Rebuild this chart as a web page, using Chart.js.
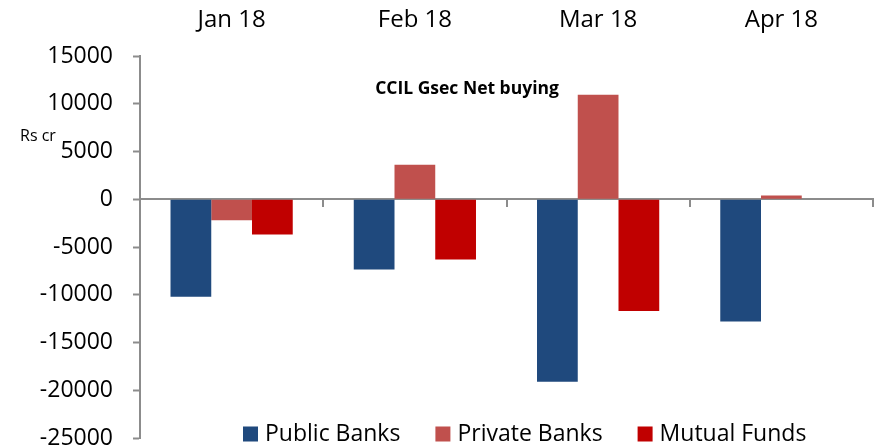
<!DOCTYPE html>
<html>
<head>
<meta charset="utf-8">
<script src="https://cdn.jsdelivr.net/npm/chart.js@4/dist/chart.umd.min.js"></script>
<style>
  html, body { margin: 0; padding: 0; background: #ffffff; }
  #wrap { position: relative; width: 878px; height: 448px; }
</style>
</head>
<body>
<div id="wrap"><canvas id="chart" width="878" height="448"></canvas></div>
<script>
// Monthly CCIL G-sec net buying by investor group (Rs crore)
const categories = ['Jan 18', 'Feb 18', 'Mar 18', 'Apr 18'];
const publicBanks = [-10200, -7350, -19100, -12800];
const privateBanks = [-2200, 3600, 10950, 400];
const mutualFunds = [-3700, -6300, -11700, 0];
const seriesNames = ['Public Banks', 'Private Banks', 'Mutual Funds'];
const yTicks = [15000, 10000, 5000, 0, -5000, -10000, -15000, -20000, -25000];

const FONT = "'Open Sans', 'Liberation Sans', sans-serif";
const AXIS_GREY = '#8c8c8c';
const colours = ['#1F497D', '#C0504D', '#C00000'];

// Title, unit note and legend painted onto the plot area
const annotations = {
  id: 'annotations',
  afterDraw(chart) {
    const ctx = chart.ctx;
    ctx.save();
    ctx.fillStyle = '#000';
    ctx.textBaseline = 'middle';

    ctx.font = 'bold 17.5px ' + FONT;
    ctx.textAlign = 'center';
    ctx.fillText('CCIL Gsec Net buying', 467, 89);

    ctx.font = '16px ' + FONT;
    ctx.textAlign = 'left';
    ctx.fillText('Rs cr', 20, 136);

    ctx.font = '23px ' + FONT;
    let x = 243;
    const yMid = 434;
    chart.data.datasets.forEach(ds => {
      ctx.fillStyle = ds.backgroundColor;
      ctx.fillRect(x, yMid - 7.5, 15, 15);
      ctx.fillStyle = '#000';
      ctx.fillText(ds.label, x + 22, yMid);
      x += 22 + ctx.measureText(ds.label).width + 35;
    });
    ctx.restore();
  }
};

new Chart(document.getElementById('chart'), {
  type: 'bar',
  data: {
    labels: categories,
    datasets: [
      { label: seriesNames[0], data: publicBanks, backgroundColor: colours[0] },
      { label: seriesNames[1], data: privateBanks, backgroundColor: colours[1] },
      { label: seriesNames[2], data: mutualFunds, backgroundColor: colours[2] }
    ].map(d => Object.assign(d, { xAxisID: 'x', barPercentage: 1, categoryPercentage: 0.667, borderWidth: 0 }))
  },
  options: {
    responsive: false,
    animation: false,
    devicePixelRatio: 1,
    layout: { padding: { left: 0, right: 5, top: 0, bottom: 10 } },
    plugins: {
      legend: { display: false },
      tooltip: { enabled: false },
      title: { display: false }
    },
    scales: {
      x: {
        type: 'category',
        position: 'top',
        offset: true,
        grid: { display: false, drawTicks: false },
        border: { display: false },
        ticks: { color: '#000', font: { family: FONT, size: 24 }, padding: 21, maxRotation: 0 },
        afterFit(s) { s.height = 56; s.paddingLeft = 0; s.paddingRight = 0; }
      },
      xZero: {
        type: 'category',
        position: { y: 0 },
        offset: true,
        grid: { offset: true, drawOnChartArea: false, drawTicks: true, tickLength: 7, color: AXIS_GREY, lineWidth: 2 },
        border: { display: true, color: AXIS_GREY, width: 2 },
        ticks: { display: false },
        afterFit(s) { s.paddingLeft = 0; s.paddingRight = 0; }
      },
      y: {
        type: 'linear',
        position: 'left',
        min: -25000,
        max: 15000,
        afterBuildTicks(s) { s.ticks = yTicks.map(v => ({ value: v })); },
        grid: { drawOnChartArea: false, drawTicks: true, tickLength: 7, tickColor: AXIS_GREY, tickWidth: 2 },
        border: { display: true, color: AXIS_GREY, width: 2 },
        ticks: {
          color: '#000',
          font: { family: FONT, size: 23 },
          padding: 20,
          callback: v => String(v)
        },
        afterFit(s) { s.width = 140; s.paddingTop = 0; s.paddingBottom = 0; }
      }
    }
  },
  plugins: [annotations]
});
</script>
</body>
</html>
